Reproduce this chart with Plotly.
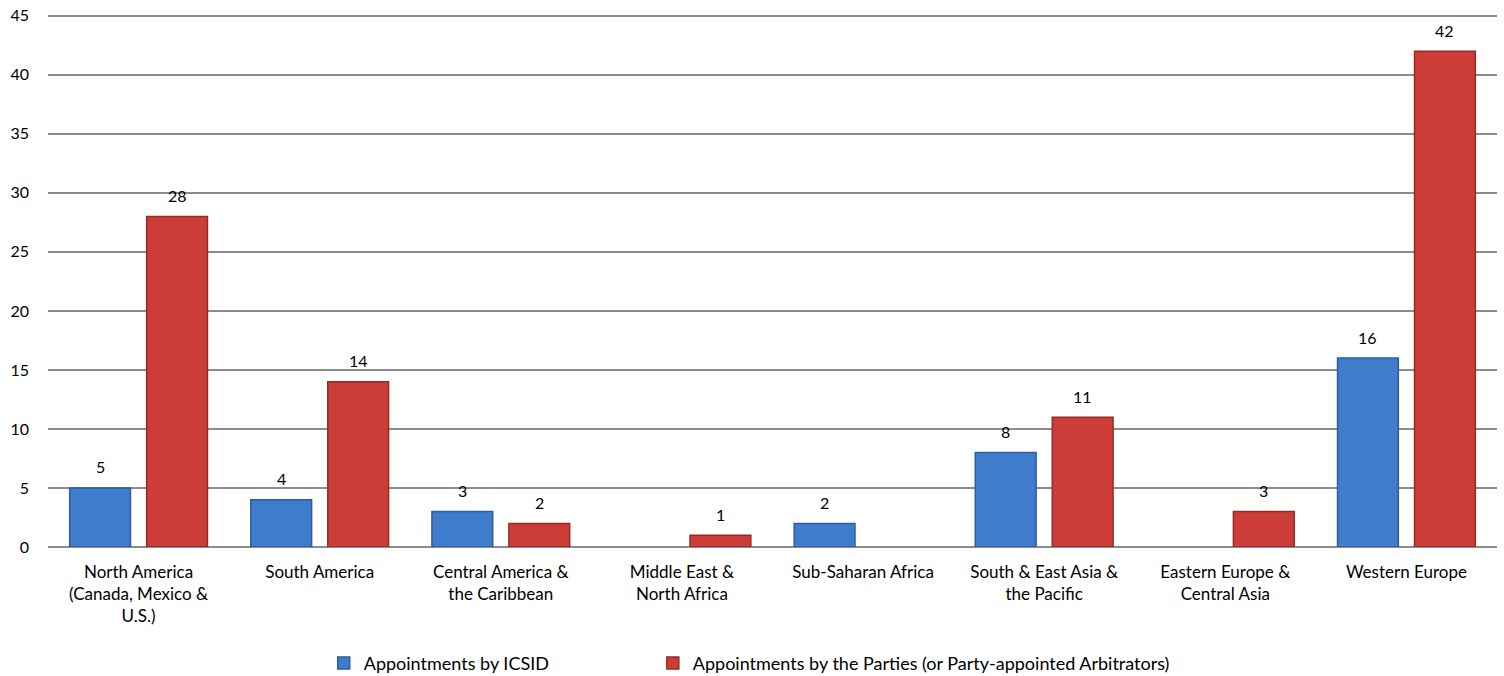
import plotly.graph_objects as go

categories = [
    "North America<br>(Canada, Mexico &<br>U.S.)",
    "South America",
    "Central America &<br>the Caribbean",
    "Middle East &<br>North Africa",
    "Sub-Saharan Africa",
    "South & East Asia &<br>the Pacific",
    "Eastern Europe &<br>Central Asia",
    "Western Europe",
]
icsid = [5, 4, 3, None, 2, 8, None, 16]
parties = [28, 14, 2, 1, None, 11, 3, 42]
series_names = ["Appointments by ICSID",
                "Appointments by the Parties (or Party-appointed Arbitrators)"]
y_ticks = [0, 5, 10, 15, 20, 25, 30, 35, 40, 45]

FONT = "Lato, Carlito, Calibri, sans-serif"
fig = go.Figure()
fig.add_trace(go.Bar(x=categories, y=icsid, name=series_names[0], legend="legend",
                     marker=dict(color="#3f7dcc", line=dict(color="#2c5d9c", width=1.5))))
fig.add_trace(go.Bar(x=categories, y=parties, name=series_names[1], legend="legend2",
                     marker=dict(color="#cc3d38", line=dict(color="#982a26", width=1.5))))

annotations = []
for vals, shift in ((icsid, -38.5), (parties, 38.5)):
    for c, v in zip(categories, vals):
        if v is None:
            continue
        annotations.append(dict(x=c, y=v, text=str(v), showarrow=False,
                                xshift=shift, yshift=21, yanchor="middle",
                                font=dict(size=16, color="#000000", family=FONT)))

leg_common = dict(orientation="h", xanchor="left", y=-0.218, yanchor="middle",
                  font=dict(size=18, family=FONT), bgcolor="rgba(0,0,0,0)")
fig.update_layout(
    width=1504, height=676,
    margin=dict(l=48, r=7, t=14, b=129, autoexpand=False),
    paper_bgcolor="white", plot_bgcolor="white",
    barmode="group", bargap=0.15, bargroupgap=0.21,
    font=dict(family=FONT, size=16, color="#000000"),
    annotations=annotations,
    showlegend=True,
    legend=dict(x=0.1903, **leg_common),
    legend2=dict(x=0.4174, **leg_common),
)
fig.update_yaxes(range=[0, 45.15], tickvals=y_ticks, showgrid=True, gridcolor="#8c8c8c",
                 gridwidth=1.5, zeroline=True, zerolinecolor="#8c8c8c", zerolinewidth=1.5,
                 showline=False, ticks="", ticklabelstandoff=18, automargin=False,
                 ticklabeloverflow="allow", tickfont=dict(size=16, family=FONT))
fig.update_xaxes(showline=False, ticks="", tickfont=dict(size=17, family=FONT),
                 ticklabelstandoff=13, automargin=False, ticklabeloverflow="allow")

fig.write_html("out.html", config={"displayModeBar": False},
               post_script="document.body.style.margin='0';")
